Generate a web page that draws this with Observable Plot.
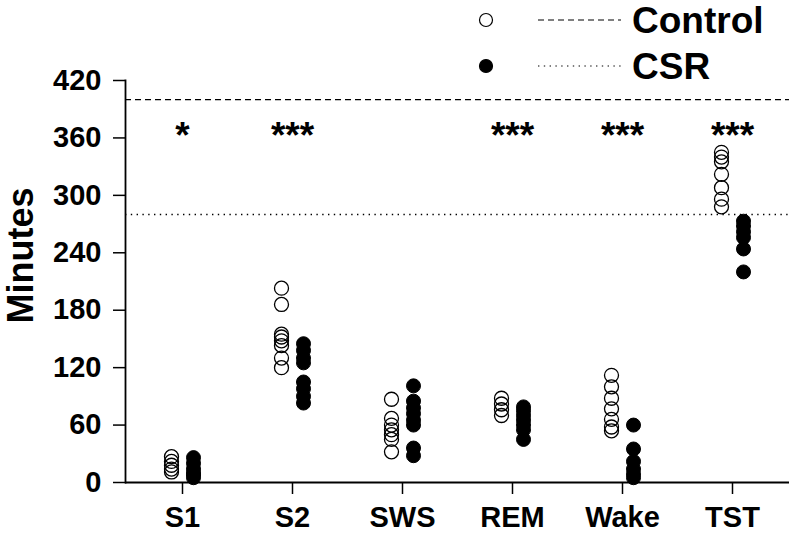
<!DOCTYPE html>
<html><head><meta charset="utf-8">
<script src="https://cdn.jsdelivr.net/npm/d3@7"></script>
<script src="https://cdn.jsdelivr.net/npm/@observablehq/plot@0.6"></script>
<style>
body{margin:0;background:#fff}
#wrap{position:relative;width:796px;height:543px}
#legend{position:absolute;left:0;top:0;pointer-events:none}
</style>
</head><body><div id="wrap"></div>
<script>
const categories = ["S1", "S2", "SWS", "REM", "Wake", "TST"];
const controlValues = [
  [27, 22, 18, 14, 11],
  [203, 186, 155, 152, 148, 143, 130, 120],
  [87, 67, 60, 55, 50, 45, 32],
  [88, 82, 76, 70],
  [112, 100, 88, 77, 66, 58, 54],
  [345, 340, 335, 322, 308, 296, 288]
];
const csrValues = [
  [26, 20, 14, 10, 8, 5],
  [145, 138, 130, 125, 105, 98, 90, 83],
  [101, 85, 78, 72, 65, 60, 36, 28],
  [79, 75, 70, 65, 60, 55, 45],
  [60, 35, 22, 14, 9, 5],
  [273, 268, 262, 256, 244, 220]
];
const significance = ["*", "***", "", "***", "***", "***"];
const sigLevel = 362;
const controlRef = 400;
const csrRef = 280;
const yTicks = [0, 60, 120, 180, 240, 300, 360, 420];
const groups = ["Control", "CSR"];

const controlRows = categories.flatMap((c, i) => controlValues[i].map(v => ({stage: c, minutes: v})));
const csrRows = categories.flatMap((c, i) => csrValues[i].map(v => ({stage: c, minutes: v})));
const sigRows = categories.map((c, i) => ({stage: c, mark: significance[i], level: sigLevel}));

const font = "'Liberation Sans', Arial, Helvetica, sans-serif";

const chart = Plot.plot({
  width: 796, height: 543,
  marginLeft: 125, marginRight: 7, marginTop: 80, marginBottom: 61,
  style: {fontFamily: font, fontWeight: "bold", color: "#000", background: "#fff"},
  x: {type: "point", domain: categories, padding: 0.5},
  y: {domain: [0, 420]},
  marks: [
    Plot.ruleY([controlRef], {stroke: "#000", strokeWidth: 1.3, strokeDasharray: "6,4"}),
    Plot.ruleY([csrRef], {stroke: "#000", strokeWidth: 1.4, strokeDasharray: "1.4,4.4"}),
    Plot.dot(controlRows, {x: "stage", y: "minutes", dx: -11, r: 7, stroke: "#000", fill: "none", strokeWidth: 1.3}),
    Plot.dot(csrRows, {x: "stage", y: "minutes", dx: 11, r: 7, stroke: "#000", fill: "#000", strokeWidth: 1}),
    Plot.text(sigRows, {x: "stage", y: "level", text: "mark", fontSize: 37, fill: "#000"}),
    Plot.axisY({ticks: yTicks, tickSize: 12, tickPadding: 12, fontSize: 29, label: null, strokeWidth: 1.5}),
    Plot.axisX({tickSize: 12, tickPadding: 12, fontSize: 29, label: null, strokeWidth: 1.5}),
    Plot.ruleY([0], {stroke: "#000", strokeWidth: 1.8}),
    Plot.frame({anchor: "left", stroke: "#000", strokeWidth: 1.8}),
    Plot.text(["Minutes"], {frameAnchor: "left", textAnchor: "middle", rotate: -90, dx: -104, dy: -26, fontSize: 36, fill: "#000"})
  ]
});
document.getElementById("wrap").appendChild(chart);

// legend overlay
const leg = d3.select("#wrap").append("svg").attr("id", "legend")
  .attr("width", 796).attr("height", 90)
  .style("font-family", font).style("font-weight", "bold");
const rowsY = [20, 66];
groups.forEach((g, i) => {
  const y = rowsY[i];
  leg.append("circle").attr("cx", 486).attr("cy", y).attr("r", 6.5)
    .attr("stroke", "#000").attr("stroke-width", 1.2)
    .attr("fill", i === 0 ? "#fff" : "#000");
  leg.append("line").attr("x1", 538).attr("x2", 621).attr("y1", y).attr("y2", y)
    .attr("stroke", "#000").attr("stroke-width", 1.2)
    .attr("stroke-dasharray", i === 0 ? "6,4" : "1.4,4.4");
  leg.append("text").attr("x", 632).attr("y", y).attr("dy", "0.36em")
    .attr("font-size", 37).text(g);
});
</script>
</body></html>
